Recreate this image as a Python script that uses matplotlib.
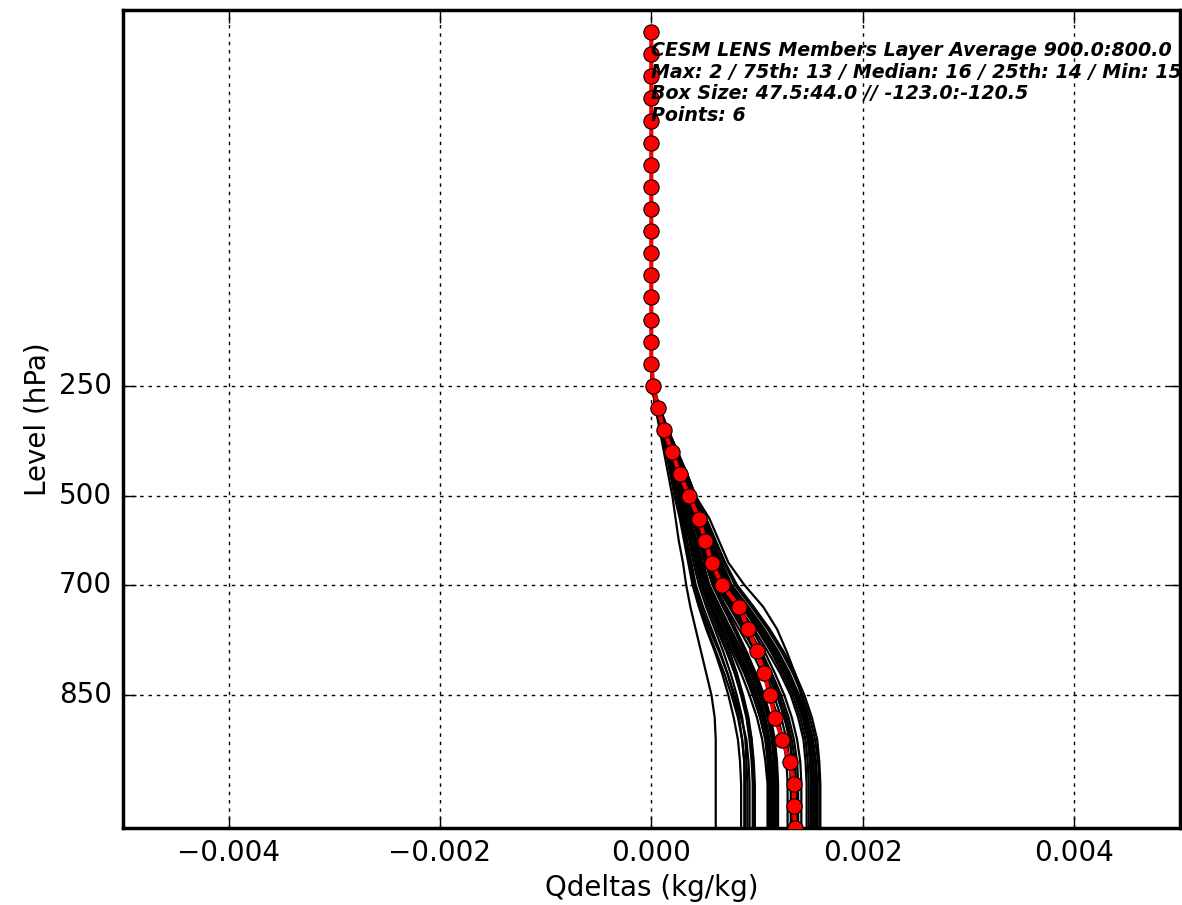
import numpy as np
import matplotlib
matplotlib.use('Agg')
import matplotlib.pyplot as plt

# pressure levels (37 levels, top to bottom); plotted against level index
levels = [1, 2, 3, 5, 7, 10, 20, 30, 50, 70, 100, 125, 150, 175, 200, 225,
          250, 300, 350, 400, 450, 500, 550, 600, 650, 700, 750, 775, 800,
          825, 850, 875, 900, 925, 950, 975, 1000]
tick_levels = [250, 500, 700, 850]

# top 16 levels are zero for every profile
top_zeros = [0.0] * 16

# member profiles, g/kg, levels 250..1000 hPa
members_lower = [
    [0.01, 0.04, 0.08, 0.12, 0.16, 0.20, 0.23, 0.26, 0.30, 0.33, 0.37, 0.42, 0.47, 0.52, 0.57, 0.60, 0.61, 0.61, 0.61, 0.61, 0.61],
    [0.01, 0.04, 0.09, 0.14, 0.18, 0.22, 0.27, 0.31, 0.35, 0.39, 0.45, 0.52, 0.60, 0.67, 0.73, 0.78, 0.82, 0.84, 0.85, 0.85, 0.85],
    [0.01, 0.05, 0.10, 0.15, 0.20, 0.25, 0.30, 0.34, 0.38, 0.42, 0.49, 0.57, 0.65, 0.72, 0.78, 0.83, 0.86, 0.88, 0.88, 0.88, 0.88],
    [0.01, 0.04, 0.09, 0.14, 0.19, 0.24, 0.28, 0.32, 0.36, 0.40, 0.46, 0.53, 0.61, 0.69, 0.76, 0.82, 0.86, 0.88, 0.89, 0.89, 0.89],
    [0.02, 0.05, 0.10, 0.16, 0.21, 0.26, 0.31, 0.36, 0.40, 0.45, 0.52, 0.60, 0.68, 0.75, 0.81, 0.86, 0.89, 0.90, 0.91, 0.91, 0.91],
    [0.01, 0.04, 0.09, 0.15, 0.20, 0.25, 0.29, 0.33, 0.37, 0.41, 0.47, 0.55, 0.64, 0.72, 0.79, 0.85, 0.90, 0.92, 0.93, 0.93, 0.93],
    [0.02, 0.05, 0.11, 0.17, 0.22, 0.28, 0.33, 0.38, 0.43, 0.48, 0.56, 0.64, 0.72, 0.79, 0.85, 0.90, 0.93, 0.95, 0.96, 0.96, 0.96],
    [0.01, 0.05, 0.10, 0.16, 0.22, 0.27, 0.32, 0.37, 0.42, 0.47, 0.54, 0.62, 0.71, 0.79, 0.86, 0.91, 0.95, 0.97, 0.98, 0.98, 0.98],
    [0.02, 0.06, 0.11, 0.17, 0.23, 0.29, 0.34, 0.39, 0.44, 0.50, 0.58, 0.66, 0.74, 0.81, 0.87, 0.92, 0.95, 0.96, 0.97, 0.97, 0.97],
    [0.01, 0.05, 0.10, 0.16, 0.21, 0.27, 0.32, 0.37, 0.42, 0.47, 0.56, 0.66, 0.76, 0.85, 0.93, 1.00, 1.05, 1.08, 1.10, 1.10, 1.10],
    [0.02, 0.05, 0.11, 0.17, 0.23, 0.29, 0.35, 0.40, 0.45, 0.51, 0.60, 0.70, 0.80, 0.89, 0.97, 1.03, 1.08, 1.10, 1.11, 1.11, 1.11],
    [0.01, 0.05, 0.10, 0.16, 0.22, 0.28, 0.33, 0.38, 0.43, 0.49, 0.58, 0.68, 0.78, 0.88, 0.96, 1.03, 1.08, 1.11, 1.12, 1.12, 1.12],
    [0.02, 0.06, 0.12, 0.18, 0.24, 0.30, 0.36, 0.42, 0.47, 0.53, 0.62, 0.72, 0.82, 0.91, 0.99, 1.05, 1.10, 1.12, 1.13, 1.13, 1.13],
    [0.01, 0.05, 0.10, 0.16, 0.22, 0.28, 0.34, 0.40, 0.46, 0.52, 0.62, 0.73, 0.83, 0.92, 1.00, 1.07, 1.11, 1.13, 1.14, 1.14, 1.14],
    [0.02, 0.06, 0.12, 0.19, 0.25, 0.31, 0.37, 0.43, 0.49, 0.55, 0.65, 0.75, 0.85, 0.94, 1.02, 1.08, 1.12, 1.14, 1.15, 1.15, 1.15],
    [0.02, 0.05, 0.11, 0.17, 0.23, 0.29, 0.35, 0.41, 0.46, 0.52, 0.61, 0.71, 0.81, 0.91, 0.99, 1.06, 1.11, 1.14, 1.16, 1.16, 1.16],
    [0.02, 0.06, 0.12, 0.18, 0.25, 0.32, 0.39, 0.45, 0.51, 0.58, 0.68, 0.78, 0.88, 0.96, 1.04, 1.10, 1.14, 1.16, 1.17, 1.17, 1.17],
    [0.01, 0.05, 0.11, 0.17, 0.23, 0.29, 0.35, 0.41, 0.47, 0.54, 0.64, 0.75, 0.86, 0.96, 1.04, 1.11, 1.15, 1.17, 1.18, 1.18, 1.18],
    [0.02, 0.06, 0.13, 0.20, 0.27, 0.34, 0.41, 0.47, 0.53, 0.60, 0.70, 0.80, 0.90, 0.99, 1.07, 1.13, 1.17, 1.19, 1.20, 1.20, 1.20],
    [0.02, 0.06, 0.12, 0.19, 0.26, 0.33, 0.40, 0.46, 0.52, 0.58, 0.68, 0.79, 0.89, 0.98, 1.06, 1.12, 1.16, 1.18, 1.19, 1.19, 1.19],
    [0.02, 0.06, 0.12, 0.19, 0.26, 0.33, 0.40, 0.46, 0.52, 0.59, 0.71, 0.83, 0.95, 1.05, 1.13, 1.20, 1.25, 1.28, 1.29, 1.29, 1.29],
    [0.02, 0.06, 0.13, 0.20, 0.27, 0.34, 0.41, 0.48, 0.54, 0.61, 0.74, 0.86, 0.98, 1.08, 1.16, 1.23, 1.28, 1.31, 1.32, 1.32, 1.32],
    [0.02, 0.06, 0.13, 0.20, 0.28, 0.36, 0.43, 0.50, 0.56, 0.63, 0.75, 0.87, 0.99, 1.10, 1.19, 1.26, 1.31, 1.33, 1.34, 1.34, 1.34],
    [0.02, 0.07, 0.13, 0.21, 0.28, 0.36, 0.43, 0.50, 0.57, 0.64, 0.77, 0.89, 1.00, 1.10, 1.19, 1.26, 1.31, 1.34, 1.35, 1.35, 1.35],
    [0.02, 0.06, 0.12, 0.19, 0.27, 0.35, 0.43, 0.50, 0.57, 0.65, 0.79, 0.91, 1.02, 1.12, 1.21, 1.28, 1.33, 1.36, 1.37, 1.37, 1.37],
    [0.02, 0.07, 0.14, 0.22, 0.30, 0.38, 0.45, 0.52, 0.59, 0.67, 0.80, 0.92, 1.04, 1.14, 1.23, 1.30, 1.35, 1.38, 1.39, 1.39, 1.39],
    [0.02, 0.07, 0.14, 0.22, 0.30, 0.38, 0.46, 0.53, 0.60, 0.68, 0.82, 0.95, 1.07, 1.17, 1.26, 1.33, 1.38, 1.41, 1.42, 1.42, 1.42],
    [0.02, 0.07, 0.14, 0.22, 0.30, 0.38, 0.46, 0.54, 0.61, 0.69, 0.83, 0.97, 1.10, 1.22, 1.32, 1.39, 1.44, 1.46, 1.47, 1.47, 1.47],
    [0.02, 0.07, 0.14, 0.22, 0.31, 0.39, 0.47, 0.55, 0.63, 0.71, 0.86, 1.00, 1.13, 1.24, 1.34, 1.41, 1.46, 1.48, 1.49, 1.49, 1.49],
    [0.02, 0.07, 0.15, 0.23, 0.31, 0.40, 0.48, 0.56, 0.64, 0.73, 0.88, 1.02, 1.15, 1.26, 1.36, 1.43, 1.48, 1.50, 1.51, 1.51, 1.51],
    [0.02, 0.07, 0.14, 0.23, 0.31, 0.39, 0.47, 0.55, 0.63, 0.72, 0.87, 1.02, 1.16, 1.28, 1.37, 1.44, 1.49, 1.51, 1.52, 1.52, 1.52],
    [0.02, 0.07, 0.15, 0.23, 0.32, 0.40, 0.49, 0.57, 0.65, 0.74, 0.89, 1.04, 1.17, 1.28, 1.38, 1.45, 1.50, 1.52, 1.53, 1.53, 1.53],
    [0.02, 0.07, 0.15, 0.24, 0.32, 0.41, 0.49, 0.58, 0.66, 0.75, 0.91, 1.06, 1.19, 1.30, 1.39, 1.46, 1.51, 1.53, 1.54, 1.54, 1.54],
    [0.02, 0.07, 0.15, 0.23, 0.31, 0.40, 0.48, 0.56, 0.65, 0.74, 0.90, 1.05, 1.18, 1.29, 1.38, 1.45, 1.50, 1.53, 1.55, 1.55, 1.55],
    [0.02, 0.07, 0.15, 0.24, 0.33, 0.41, 0.50, 0.58, 0.67, 0.76, 0.92, 1.07, 1.20, 1.31, 1.40, 1.47, 1.52, 1.55, 1.56, 1.56, 1.56],
    [0.02, 0.08, 0.16, 0.25, 0.34, 0.42, 0.55, 0.64, 0.73, 0.88, 1.06, 1.19, 1.28, 1.36, 1.42, 1.48, 1.53, 1.56, 1.57, 1.57, 1.57],
    [0.02, 0.07, 0.16, 0.25, 0.34, 0.42, 0.51, 0.60, 0.69, 0.79, 0.95, 1.10, 1.23, 1.34, 1.43, 1.50, 1.55, 1.58, 1.59, 1.59, 1.59],
    [0.02, 0.08, 0.16, 0.25, 0.34, 0.42, 0.52, 0.61, 0.70, 0.81, 0.97, 1.12, 1.25, 1.36, 1.45, 1.52, 1.57, 1.59, 1.60, 1.60, 1.60],
]

# highlighted profile, g/kg, levels 250..1000 hPa
red_lower = [0.02, 0.06, 0.12, 0.20, 0.27, 0.36, 0.45, 0.51, 0.57, 0.67, 0.83,
             0.92, 1.00, 1.07, 1.12, 1.17, 1.24, 1.31, 1.35, 1.35, 1.36]

info_text = ("CESM LENS Members Layer Average 900.0:800.0\n"
             "Max: 2 / 75th: 13 / Median: 16 / 25th: 14 / Min: 15\n"
             "Box Size: 47.5:44.0 // -123.0:-120.5\n"
             "Points: 6")

plt.style.use('classic')
fig = plt.figure(figsize=(11.82, 9.05), dpi=100, facecolor='white')
ax = fig.add_axes([0.104, 0.085, 0.894, 0.904])
ax.set_facecolor('white')

y = np.arange(len(levels))
for m in members_lower:
    prof = np.array(top_zeros + m) * 1e-3  # g/kg -> kg/kg
    ax.plot(prof, y, color='k', lw=1.6, zorder=2)

red = np.array(top_zeros + red_lower) * 1e-3
ax.plot(red, y, color='red', lw=3, marker='o', markersize=11,
        markerfacecolor='red', markeredgecolor='k', markeredgewidth=0.8, zorder=3)

ax.set_xlim(-0.005, 0.005)
ax.set_ylim(len(levels) - 1, -1)
ax.set_xticks([-0.004, -0.002, 0.0, 0.002, 0.004])
ax.set_yticks([levels.index(l) for l in tick_levels])
ax.set_yticklabels([str(l) for l in tick_levels])
ax.tick_params(labelsize=20, direction='in', length=9, width=1, pad=8)
ax.grid(True, color='k', linestyle=(0, (2.5, 3.5)), linewidth=1.0)
for s in ax.spines.values():
    s.set_linewidth(2.5)

ax.set_xlabel('Qdeltas (kg/kg)', fontsize=20)
ax.set_ylabel('Level (hPa)', fontsize=20)

ax.text(0.0, 0.962, info_text, transform=ax.get_xaxis_transform(),
        fontsize=13.7, fontweight='bold', fontstyle='italic', va='top', ha='left',
        linespacing=1.17, zorder=4, clip_on=False)

fig.savefig('out.png', dpi=100, facecolor='white')
